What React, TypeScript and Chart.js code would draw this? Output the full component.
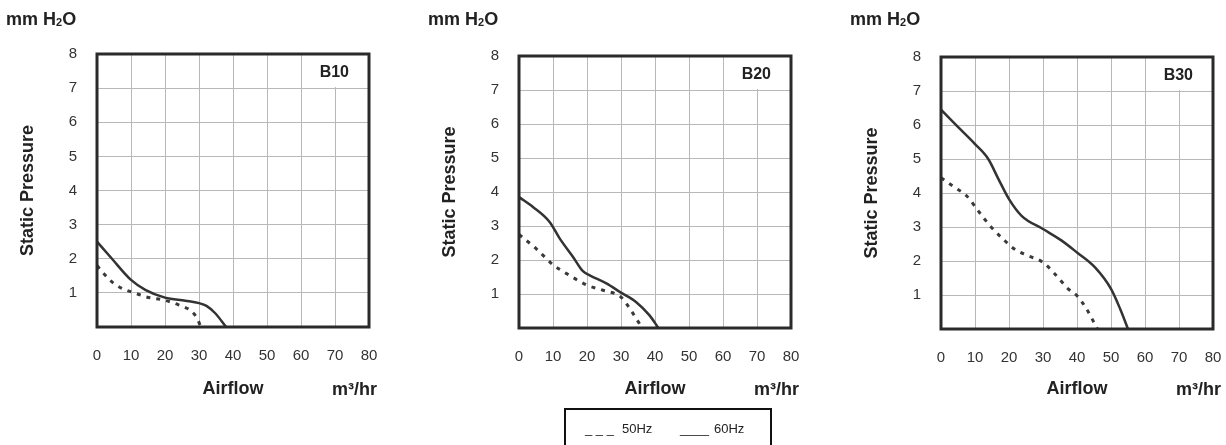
import React, { useEffect, useRef } from 'react';
import { Chart, registerables } from 'chart.js';

Chart.register(...registerables);

// ---- data ----
const xTickValues = [0, 10, 20, 30, 40, 50, 60, 70, 80];
const yTickValues = [0, 1, 2, 3, 4, 5, 6, 7, 8];
const modelNames = ['B10', 'B20', 'B30'];
const legendLabels = ['50Hz', '60Hz'];

const b10Flow60 = [0, 4.4, 10, 14.2, 20, 26, 30, 32.2, 34.7, 38];
const b10Pres60 = [2.5, 2.0, 1.38, 1.09, 0.86, 0.77, 0.7, 0.62, 0.41, 0];
const b10Flow50 = [0, 2.4, 4.9, 8.3, 11.3, 14.2, 20, 24, 27.9, 29.7, 30.4];
const b10Pres50 = [1.8, 1.52, 1.28, 1.09, 0.99, 0.89, 0.78, 0.65, 0.45, 0.21, 0.02];

const b20Flow60 = [0, 4.1, 9, 12, 15.9, 18.8, 20.8, 25.7, 30, 34.5, 38.4, 41];
const b20Pres60 = [3.85, 3.56, 3.12, 2.63, 2.09, 1.67, 1.55, 1.31, 1.04, 0.76, 0.37, 0];
const b20Flow50 = [0, 5.1, 10, 14, 20, 24.7, 30, 32.6, 35.1, 36];
const b20Pres50 = [2.75, 2.33, 1.86, 1.6, 1.26, 1.11, 0.91, 0.57, 0.18, 0.04];

const b30Flow60 = [0, 4.1, 10, 13.9, 16.9, 20, 23.7, 30, 35.5, 40, 45.3, 50, 52.7, 55];
const b30Pres60 = [6.45, 6.03, 5.44, 5.0, 4.41, 3.82, 3.33, 2.94, 2.6, 2.25, 1.81, 1.18, 0.59, 0];
const b30Flow50 = [0, 4.1, 7.5, 10.9, 14.8, 18.2, 21.6, 25.5, 30, 33.5, 37.4, 40, 42.8, 46];
const b30Pres50 = [4.45, 4.16, 3.92, 3.48, 2.99, 2.65, 2.35, 2.16, 1.96, 1.62, 1.18, 0.98, 0.59, 0];

const FONT = '"Liberation Sans", Arial, Helvetica, sans-serif';
const W = 380;
const H = 410;
const AREA_LEFT = 97;
const AREA_RIGHT = 369;
const PANEL_STEP = 422;

const toPoints = (xs: number[], ys: number[]) => xs.map((x, i) => ({ x, y: ys[i] }));

type PanelProps = {
  index: number;
  label: string;
  flow60: number[];
  pres60: number[];
  flow50: number[];
  pres50: number[];
  top: number;
  bottom: number;
};

function Panel({ index, label, flow60, pres60, flow50, pres50, top, bottom }: PanelProps) {
  const ref = useRef<HTMLCanvasElement | null>(null);

  useEffect(() => {
    if (!ref.current) return;
    const framePlugin = {
      id: 'frame' + index,
      beforeDatasetsDraw(chart: any) {
        const { ctx, chartArea: a, scales } = chart;
        const xs = scales.x;
        const ys = scales.y;
        ctx.save();
        ctx.fillStyle = '#ffffff';
        const x0 = xs.getPixelForValue(60) + 1.5;
        const y7 = ys.getPixelForValue(7) - 1;
        ctx.fillRect(x0, a.top, a.right - x0, y7 - a.top);
        ctx.font = `bold 16px ${FONT}`;
        ctx.fillStyle = '#222';
        ctx.textAlign = 'right';
        ctx.textBaseline = 'middle';
        ctx.fillText(label, a.right - 20, a.top + 19);
        ctx.restore();
      },
      afterDatasetsDraw(chart: any) {
        const { ctx, chartArea: a } = chart;
        ctx.save();
        ctx.strokeStyle = '#2a2a2a';
        ctx.lineWidth = 3;
        ctx.strokeRect(a.left, a.top, a.right - a.left, a.bottom - a.top);
        ctx.restore();
      },
    };

    const chart = new Chart(ref.current, {
      type: 'line',
      data: {
        datasets: [
          {
            label: legendLabels[1],
            data: toPoints(flow60, pres60),
            borderColor: '#333',
            borderWidth: 2.5,
            pointRadius: 0,
            cubicInterpolationMode: 'monotone',
            fill: false,
          },
          {
            label: legendLabels[0],
            data: toPoints(flow50, pres50),
            borderColor: '#3a3a3a',
            borderWidth: 3,
            borderDash: [4, 6],
            borderCapStyle: 'butt',
            pointRadius: 0,
            cubicInterpolationMode: 'monotone',
            fill: false,
          },
        ],
      },
      options: {
        responsive: false,
        animation: false,
        layout: { padding: { left: 0, right: W - AREA_RIGHT, top, bottom: 0 } },
        plugins: { legend: { display: false }, tooltip: { enabled: false } },
        scales: {
          x: {
            type: 'linear',
            min: 0,
            max: 80,
            afterBuildTicks: (s: any) => {
              s.ticks = xTickValues.map((v) => ({ value: v }));
            },
            afterFit: (s: any) => {
              s.height = H - bottom;
            },
            grid: { color: '#b8b8b8', lineWidth: 1, drawTicks: false },
            border: { display: false },
            ticks: {
              padding: 0,
              autoSkip: false,
              maxRotation: 0,
              color: '#333',
              font: { family: FONT, size: 15, lineHeight: '58px' },
            },
            title: {
              display: true,
              text: 'Airflow',
              color: '#222',
              font: { family: FONT, size: 18, weight: 'bold' },
              padding: { top: 0, bottom: 10 },
            },
          },
          y: {
            type: 'linear',
            min: 0,
            max: 8,
            afterBuildTicks: (s: any) => {
              s.ticks = yTickValues.map((v) => ({ value: v }));
            },
            afterFit: (s: any) => {
              s.width = AREA_LEFT;
            },
            grid: { color: '#b8b8b8', lineWidth: 1, drawTicks: false },
            border: { display: false },
            ticks: {
              padding: 20,
              color: '#333',
              font: { family: FONT, size: 15 },
              callback: (v: any) => (v === 0 ? '' : String(v)),
            },
            title: {
              display: true,
              text: 'Static Pressure',
              color: '#222',
              font: { family: FONT, size: 18, weight: 'bold' },
              padding: { top: 17, bottom: 0 },
            },
          },
        },
      } as any,
      plugins: [framePlugin],
    });
    return () => chart.destroy();
  }, []);

  const left = index * PANEL_STEP;
  return (
    <>
      <canvas
        ref={ref}
        width={W}
        height={H}
        style={{ position: 'absolute', left, top: 0, width: W, height: H }}
      />
      <div
        style={{
          position: 'absolute',
          left: left + 6,
          top: 8,
          font: `bold 18px ${FONT}`,
          lineHeight: '22px',
          color: '#222',
          whiteSpace: 'nowrap',
        }}
      >
        mm H<span style={{ fontSize: 11, verticalAlign: '-1px' }}>2</span>O
      </div>
      <div
        style={{
          position: 'absolute',
          left: left + 332,
          top: 378,
          font: `bold 18px ${FONT}`,
          lineHeight: '22px',
          color: '#222',
          whiteSpace: 'nowrap',
        }}
      >
        m³/hr
      </div>
    </>
  );
}

export default function App() {
  const textStyle: React.CSSProperties = {
    position: 'absolute',
    top: 421,
    font: `13px ${FONT}`,
    lineHeight: '15px',
    color: '#222',
    whiteSpace: 'pre',
  };
  return (
    <div
      style={{
        position: 'fixed',
        left: 0,
        top: 0,
        width: 1226,
        height: 445,
        background: '#fff',
        overflow: 'hidden',
      }}
    >
      <Panel index={0} label={modelNames[0]} flow60={b10Flow60} pres60={b10Pres60} flow50={b10Flow50} pres50={b10Pres50} top={54} bottom={327} />
      <Panel index={1} label={modelNames[1]} flow60={b20Flow60} pres60={b20Pres60} flow50={b20Flow50} pres50={b20Pres50} top={56} bottom={328} />
      <Panel index={2} label={modelNames[2]} flow60={b30Flow60} pres60={b30Pres60} flow50={b30Flow50} pres50={b30Pres50} top={57} bottom={329} />
      <div
        style={{
          position: 'absolute',
          left: 564,
          top: 408,
          width: 204,
          height: 60,
          border: '2px solid #111',
          boxSizing: 'content-box',
        }}
      />
      <div style={{ ...textStyle, left: 585 }}>{'_ _ _'}</div>
      <div style={{ ...textStyle, left: 622 }}>{legendLabels[0]}</div>
      <div style={{ ...textStyle, left: 680 }}>{'____'}</div>
      <div style={{ ...textStyle, left: 714 }}>{legendLabels[1]}</div>
    </div>
  );
}
